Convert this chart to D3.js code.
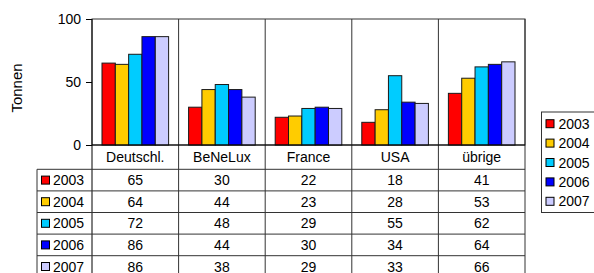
<!DOCTYPE html>
<html>
<head>
<meta charset="utf-8">
<script src="https://cdn.jsdelivr.net/npm/d3@7"></script>
<style>
  html, body { margin: 0; padding: 0; background: #fff; }
  svg { display: block; font-family: "Liberation Sans", Arial, sans-serif; }
</style>
</head>
<body>
<div id="chart"></div>
<script>
// data
const categories = ['Deutschl.', 'BeNeLux', 'France', 'USA', 'übrige'];
const years = ['2003', '2004', '2005', '2006', '2007'];
const values2003 = [65, 30, 22, 18, 41];
const values2004 = [64, 44, 23, 28, 53];
const values2005 = [72, 48, 29, 55, 62];
const values2006 = [86, 44, 30, 34, 64];
const values2007 = [86, 38, 29, 33, 66];
const yTicks = [0, 50, 100];
const colors = ['#ff0000', '#ffcc00', '#00ccff', '#0000ff', '#ccccff'];

const seriesValues = [values2003, values2004, values2005, values2006, values2007];
const series = years.map((year, i) => ({ year, values: seriesValues[i], color: colors[i] }));

const width = 594;
const height = 273;
const plot = { left: 92, right: 525, top: 19, bottom: 145 };
const table = { left: 37, top: 169.3, rowHeight: 21.6 };
const tableBottom = table.top + table.rowHeight * years.length;
const lineColor = '#333';

const svg = d3
    .select('#chart')
    .append('svg')
    .attr('width', width)
    .attr('height', height)
    .attr('viewBox', [0, 0, width, height]);

const x0 = d3.scaleBand().domain(categories).range([plot.left, plot.right]);
const x1 = d3
    .scaleBand()
    .domain(years)
    .range([0, x0.bandwidth()])
    .paddingInner(0)
    .paddingOuter(0.75);
const y = d3.scaleLinear().domain([0, 100]).range([plot.bottom, plot.top]);
const rowY = d3
    .scaleBand()
    .domain(years)
    .range([table.top, tableBottom]);

// plot frame
svg.append('rect')
    .attr('x', plot.left)
    .attr('y', plot.top)
    .attr('width', plot.right - plot.left)
    .attr('height', plot.bottom - plot.top)
    .attr('fill', 'none')
    .attr('stroke', lineColor)
    .attr('stroke-width', 1);

// bars
const groups = svg
    .selectAll('.cat')
    .data(categories)
    .enter()
    .append('g')
    .attr('class', 'cat')
    .attr('transform', (d) => `translate(${ x0(d) },0)`);

groups
    .selectAll('rect')
    .data((d, ci) => series.map((s) => ({ year: s.year, value: s.values[ci], color: s.color })))
    .enter()
    .append('rect')
    .attr('x', (d) => x1(d.year))
    .attr('y', (d) => y(d.value))
    .attr('width', x1.bandwidth())
    .attr('height', (d) => y(0) - y(d.value))
    .attr('fill', (d) => d.color)
    .attr('stroke', '#1a1a1a')
    .attr('stroke-width', 1);

// category dividers running through plot and table
svg.selectAll('.divider')
    .data(categories.slice(1).concat(['end']))
    .enter()
    .append('line')
    .attr('class', 'divider')
    .attr('x1', (d) => (d === 'end' ? plot.right : x0(d)))
    .attr('x2', (d) => (d === 'end' ? plot.right : x0(d)))
    .attr('y1', plot.top)
    .attr('y2', tableBottom + 10)
    .attr('stroke', lineColor);

// y axis
const yAxis = d3.axisLeft(y).tickValues(yTicks).tickSize(6).tickPadding(5);
const yAxisG = svg
    .append('g')
    .attr('transform', `translate(${ plot.left },0)`)
    .call(yAxis);
yAxisG.select('.domain').remove();
yAxisG.selectAll('.tick line').attr('stroke', '#000');
yAxisG.selectAll('.tick text')
    .attr('font-size', 14)
    .attr('font-family', '"Liberation Sans", Arial, sans-serif')
    .attr('fill', '#000');

svg.append('line')
    .attr('x1', plot.left)
    .attr('x2', plot.left)
    .attr('y1', plot.top)
    .attr('y2', tableBottom + 10)
    .attr('stroke', '#000');

svg.append('line')
    .attr('x1', plot.left)
    .attr('x2', plot.right)
    .attr('y1', y(0))
    .attr('y2', y(0))
    .attr('stroke', '#000');

svg.append('text')
    .attr('transform', `translate(22,88) rotate(-90)`)
    .attr('text-anchor', 'middle')
    .attr('font-size', 15)
    .text('Tonnen');

// data table
svg.selectAll('.hline')
    .data(years)
    .enter()
    .append('line')
    .attr('class', 'hline')
    .attr('x1', table.left)
    .attr('x2', plot.right)
    .attr('y1', (d) => rowY(d))
    .attr('y2', (d) => rowY(d))
    .attr('stroke', lineColor);

svg.append('line')
    .attr('x1', table.left)
    .attr('x2', table.left)
    .attr('y1', table.top)
    .attr('y2', tableBottom + 10)
    .attr('stroke', lineColor);

svg.selectAll('.colLabel')
    .data(categories)
    .enter()
    .append('text')
    .attr('class', 'colLabel')
    .attr('x', (d) => x0(d) + x0.bandwidth() / 2)
    .attr('y', (plot.bottom + table.top) / 2 + 5)
    .attr('text-anchor', 'middle')
    .attr('font-size', 14)
    .text((d) => d);

const rows = svg
    .selectAll('.row')
    .data(series)
    .enter()
    .append('g')
    .attr('class', 'row')
    .attr('transform', (d) => `translate(0,${ rowY(d.year) + rowY.bandwidth() / 2 })`);

rows.append('rect')
    .attr('x', table.left + 4.5)
    .attr('y', -4)
    .attr('width', 8)
    .attr('height', 8)
    .attr('fill', (d) => d.color)
    .attr('stroke', '#000');

rows.append('text')
    .attr('x', table.left + 16)
    .attr('y', 5)
    .attr('font-size', 14)
    .text((d) => d.year);

rows.selectAll('.val')
    .data((d) => d.values.map((v, i) => ({ v, cat: categories[i] })))
    .enter()
    .append('text')
    .attr('class', 'val')
    .attr('x', (d) => x0(d.cat) + x0.bandwidth() / 2)
    .attr('y', 5)
    .attr('text-anchor', 'middle')
    .attr('font-size', 14)
    .text((d) => d.v);

// legend
const legend = svg.append('g').attr('transform', 'translate(541.5,112)');
legend.append('rect')
    .attr('width', 70)
    .attr('height', 100.5)
    .attr('fill', '#fff')
    .attr('stroke', lineColor);

const legendY = d3.scaleBand().domain(years).range([2, 99]);
const items = legend
    .selectAll('.item')
    .data(series)
    .enter()
    .append('g')
    .attr('class', 'item')
    .attr('transform', (d) => `translate(0,${ legendY(d.year) + legendY.bandwidth() / 2 })`);

items.append('rect')
    .attr('x', 4.5)
    .attr('y', -4)
    .attr('width', 8)
    .attr('height', 8)
    .attr('fill', (d) => d.color)
    .attr('stroke', '#000');

items.append('text')
    .attr('x', 17)
    .attr('y', 5)
    .attr('font-size', 14)
    .text((d) => d.year);
</script>
</body>
</html>
